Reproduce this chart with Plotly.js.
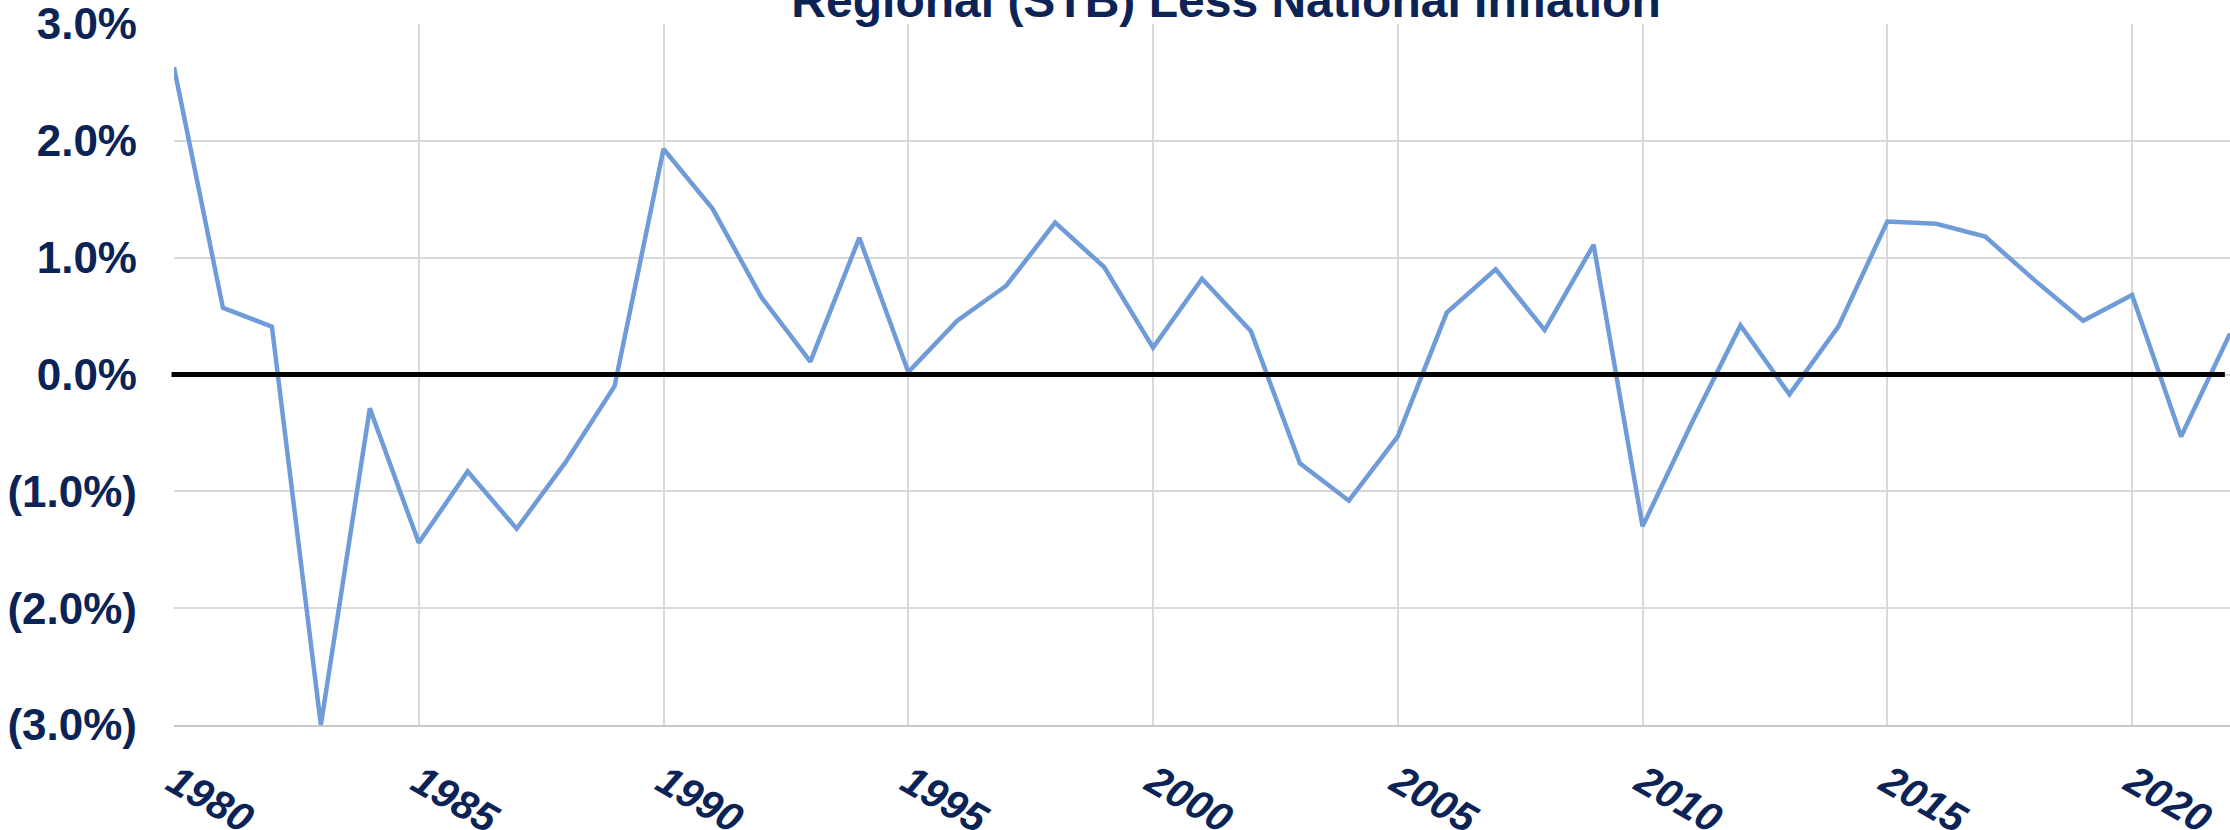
<!DOCTYPE html>
<html>
<head>
<meta charset="utf-8">
<script src="https://cdn.plot.ly/plotly-3.0.1.min.js"></script>
<style>
  html, body { margin: 0; padding: 0; background: #ffffff; }
  #chart { width: 2230px; height: 830px; }
</style>
</head>
<body>
<div id="chart"></div>
<script>
// ---- data (values in percent) ----
const years = [1980,1981,1982,1983,1984,1985,1986,1987,1988,1989,
               1990,1991,1992,1993,1994,1995,1996,1997,1998,1999,
               2000,2001,2002,2003,2004,2005,2006,2007,2008,2009,
               2010,2011,2012,2013,2014,2015,2016,2017,2018,2019,
               2020,2021,2022];
const regionalLessNational = [2.63,0.57,0.41,-3.00,-0.29,-1.44,-0.83,-1.32,-0.75,-0.10,
                              1.93,1.42,0.66,0.11,1.17,0.02,0.46,0.76,1.30,0.92,
                              0.23,0.82,0.37,-0.76,-1.08,-0.53,0.53,0.90,0.38,1.11,
                              -1.30,-0.42,0.42,-0.17,0.41,1.31,1.29,1.18,0.81,0.46,
                              0.68,-0.53,0.35];
const yTickVals = [3, 2, 1, 0, -1, -2, -3];
const yTickText = ['3.0%', '2.0%', '1.0%', '0.0%', '(1.0%)', '(2.0%)', '(3.0%)'];
const xTickVals = [1980, 1985, 1990, 1995, 2000, 2005, 2010, 2015, 2020];
const xTickText = ['1980', '1985', '1990', '1995', '2000', '2005', '2010', '2015', '2020'];
const chartTitle = 'Regional (STB) Less National Inflation';

const navy = '#0c2356';
const grid = '#d9d9d9';

const trace = {
  x: years,
  y: regionalLessNational,
  type: 'scatter',
  mode: 'lines',
  line: { color: '#6f9bd9', width: 4.5 },
  hoverinfo: 'x+y'
};

const layout = {
  width: 2230,
  height: 830,
  margin: { l: 174, r: 0, t: 24, b: 105, pad: 0 },
  paper_bgcolor: '#ffffff',
  plot_bgcolor: '#ffffff',
  showlegend: false,
  title: {
    text: '<b>' + chartTitle + '</b>',
    font: { family: 'Liberation Sans, Arial, sans-serif', size: 48, color: navy },
    xref: 'paper', x: 0.5117, xanchor: 'center',
    yref: 'container', y: 1.0, yanchor: 'middle'
  },
  xaxis: {
    range: [1980, 2022],
    tickmode: 'array',
    tickvals: xTickVals,
    ticktext: xTickText,
    tickangle: 30,
    tickfont: { family: 'Liberation Sans, Arial, sans-serif', size: 41, color: navy, weight: 'bold', style: 'italic' },
    ticks: '',
    ticklabelstandoff: 15,
    ticklabeloverflow: 'allow',
    showgrid: true,
    gridcolor: grid,
    gridwidth: 2,
    showline: true,
    linecolor: '#c8c8c8',
    linewidth: 2,
    zeroline: false,
    fixedrange: true
  },
  yaxis: {
    range: [-3, 3],
    tickmode: 'array',
    tickvals: yTickVals,
    ticktext: yTickText,
    tickfont: { family: 'Liberation Sans, Arial, sans-serif', size: 44, color: navy, weight: 'bold' },
    ticks: '',
    ticklabelstandoff: 36,
    ticklabeloverflow: 'allow',
    showgrid: true,
    gridcolor: grid,
    gridwidth: 2,
    showline: false,
    zeroline: false,
    fixedrange: true
  },
  shapes: [{
    type: 'line',
    xref: 'paper', yref: 'y',
    x0: -0.0012, x1: 0.9975, y0: 0, y1: 0,
    line: { color: '#000000', width: 5 },
    layer: 'above'
  }]
};

Plotly.newPlot('chart', [trace], layout, { staticPlot: true, displayModeBar: false });
</script>
</body>
</html>
